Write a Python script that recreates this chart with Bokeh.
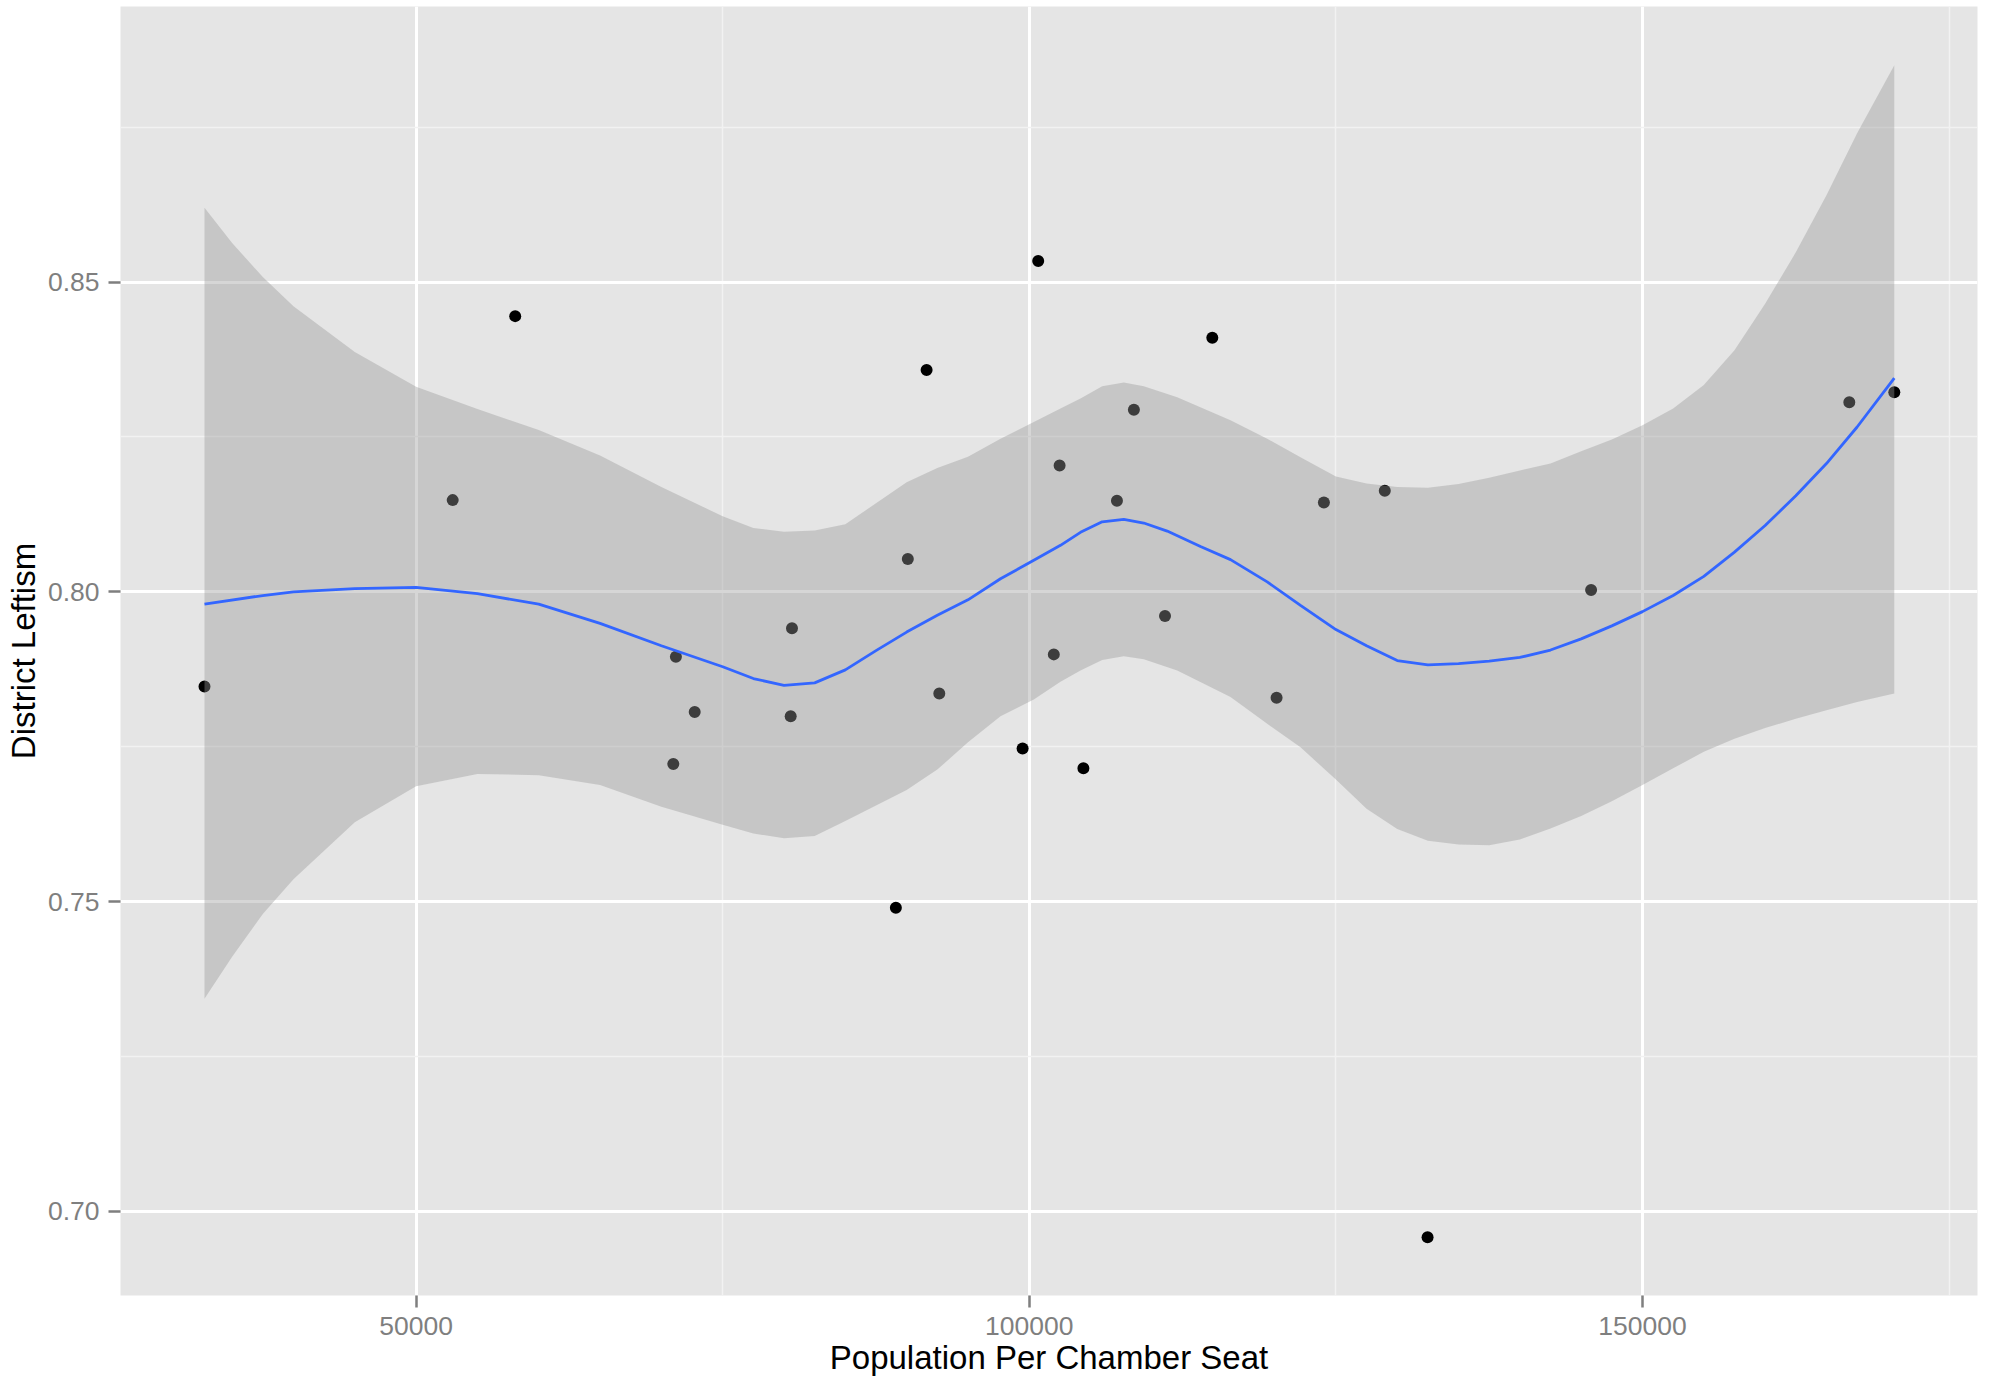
from bokeh.plotting import figure
from bokeh.models import Range1d, FixedTicker
from bokeh.embed import file_html
from bokeh.resources import INLINE

# ---- data ----
pop_per_seat = [32746, 52984, 58081, 70972, 71184, 72717, 80544, 80650, 89120, 90094,
                91626, 92661, 99454, 100726, 101998, 102471, 104412, 107147, 108529, 111065,
                114922, 120164, 124021, 128986, 132475, 145809, 166863, 170532]
leftism = [0.7847, 0.8148, 0.8445, 0.7722, 0.7895, 0.7806, 0.7799, 0.7941, 0.7490, 0.8053,
           0.8358, 0.7836, 0.7747, 0.8534, 0.7899, 0.8204, 0.7715, 0.8147, 0.8294, 0.7961,
           0.8410, 0.7829, 0.8144, 0.8163, 0.6958, 0.8003, 0.8306, 0.8322]

# loess fit line
fit_x = [32746, 37500, 40000, 45000, 50000, 55000, 60000, 65000, 70000, 75000,
         77500, 80000, 82500, 85000, 87500, 90000, 92500, 95000, 97652, 100367,
         102544, 104175, 105944, 107706, 109336, 111244, 113960, 116406, 119399, 122114,
         125000, 127500, 130000, 132500, 135000, 137500, 140000, 142500, 145000, 147500,
         150000, 152500, 155000, 157500, 160000, 162500, 165000, 167500, 170532]
fit_y = [0.7980, 0.7994, 0.8000, 0.8005, 0.8007, 0.7997, 0.7980, 0.7949, 0.7913, 0.7879,
         0.7860, 0.7849, 0.7853, 0.7874, 0.7905, 0.7935, 0.7962, 0.7987, 0.8021, 0.8051,
         0.8075, 0.8096, 0.8113, 0.8117, 0.8111, 0.8098, 0.8073, 0.8052, 0.8016, 0.7978,
         0.7939, 0.7913, 0.7889, 0.7882, 0.7884, 0.7888, 0.7894, 0.7906, 0.7924, 0.7945,
         0.7968, 0.7994, 0.8025, 0.8064, 0.8107, 0.8155, 0.8207, 0.8266, 0.8345]

# confidence band
band_x = [32746, 35000, 37500, 40000, 45000, 50000, 55000, 60000, 65000, 70000,
          75000, 77500, 80000, 82500, 85000, 87500, 90000, 92500, 95000, 97652,
          100367, 102544, 104175, 105944, 107706, 109336, 112060, 116406, 119399, 122114,
          125000, 127500, 130000, 132500, 135000, 137500, 140000, 142500, 145000, 147500,
          150000, 152500, 155000, 157500, 160000, 162500, 165000, 167500, 170532]
band_upper = [0.8620, 0.8563, 0.8508, 0.8461, 0.8387, 0.8331, 0.8295, 0.8261, 0.8220, 0.8169,
              0.8122, 0.8103, 0.8097, 0.8099, 0.8109, 0.8143, 0.8177, 0.8200, 0.8218, 0.8247,
              0.8274, 0.8296, 0.8312, 0.8332, 0.8338, 0.8332, 0.8314, 0.8277, 0.8247, 0.8217,
              0.8186, 0.8175, 0.8169, 0.8168, 0.8174, 0.8184, 0.8196, 0.8207, 0.8227, 0.8246,
              0.8269, 0.8296, 0.8334, 0.8390, 0.8465, 0.8548, 0.8640, 0.8740, 0.8850]
band_lower = [0.7343, 0.7411, 0.7480, 0.7536, 0.7628, 0.7686, 0.7706, 0.7704, 0.7688, 0.7653,
              0.7624, 0.7610, 0.7602, 0.7606, 0.7630, 0.7655, 0.7680, 0.7713, 0.7757, 0.7799,
              0.7826, 0.7855, 0.7873, 0.7890, 0.7896, 0.7891, 0.7873, 0.7830, 0.7787, 0.7749,
              0.7697, 0.7650, 0.7617, 0.7598, 0.7592, 0.7591, 0.7600, 0.7618, 0.7638, 0.7662,
              0.7688, 0.7715, 0.7742, 0.7763, 0.7780, 0.7795, 0.7809, 0.7822, 0.7836]

x_ticks = [50000, 100000, 150000]
x_tick_labels = ["50000", "100000", "150000"]
x_minor = [75000, 125000, 175000]
y_ticks = [0.70, 0.75, 0.80, 0.85]
y_tick_labels = ["0.70", "0.75", "0.80", "0.85"]
y_minor = [0.725, 0.775, 0.825, 0.875]

x_label = "Population Per Chamber Seat"
y_label = "District Leftism"

FONT = "Liberation Sans"

p = figure(width=1985, height=1378,
           x_range=Range1d(25897, 177316), y_range=Range1d(0.68641, 0.89448),
           output_backend="svg", toolbar_location=None,
           min_border_left=120, min_border_right=8, min_border_top=6, min_border_bottom=83)

p.background_fill_color = "#E5E5E5"
p.border_fill_color = "white"
p.outline_line_color = None

p.xaxis.ticker = FixedTicker(ticks=x_ticks, minor_ticks=x_minor)
p.yaxis.ticker = FixedTicker(ticks=y_ticks, minor_ticks=y_minor)
p.xaxis.major_label_overrides = dict(zip(x_ticks, x_tick_labels))
p.yaxis.major_label_overrides = dict(zip(y_ticks, y_tick_labels))

for g in (p.xgrid, p.ygrid):
    g.grid_line_color = "white"
    g.grid_line_width = 3
    g.minor_grid_line_color = "#F2F2F2"
    g.minor_grid_line_width = 1.5

for ax in (p.xaxis, p.yaxis):
    ax.axis_line_color = None
    ax.major_tick_line_color = "#7F7F7F"
    ax.major_tick_line_width = 2.5
    ax.major_tick_out = 12
    ax.major_tick_in = 0
    ax.minor_tick_line_color = None
    ax.major_label_text_font = FONT
    ax.major_label_text_font_size = "26.5px"
    ax.major_label_text_color = "#7F7F7F"
    ax.axis_label_text_font = FONT
    ax.axis_label_text_font_size = "33px"
    ax.axis_label_text_font_style = "normal"
    ax.axis_label_text_color = "black"

p.xaxis.axis_label = x_label
p.yaxis.axis_label = y_label
p.xaxis.major_label_standoff = 9
p.xaxis.axis_label_standoff = 1
p.yaxis.major_label_standoff = 9
p.yaxis.axis_label_standoff = 3

# points first, then the semi-transparent confidence ribbon, then the fit line
p.scatter(pop_per_seat, leftism, size=12, fill_color="black", line_color=None)
p.varea(x=band_x, y1=band_lower, y2=band_upper, fill_color="#999999", fill_alpha=0.4)
p.line(fit_x, fit_y, line_color="#3366FF", line_width=2.8)

open("out.html", "w").write(file_html(p, INLINE))
